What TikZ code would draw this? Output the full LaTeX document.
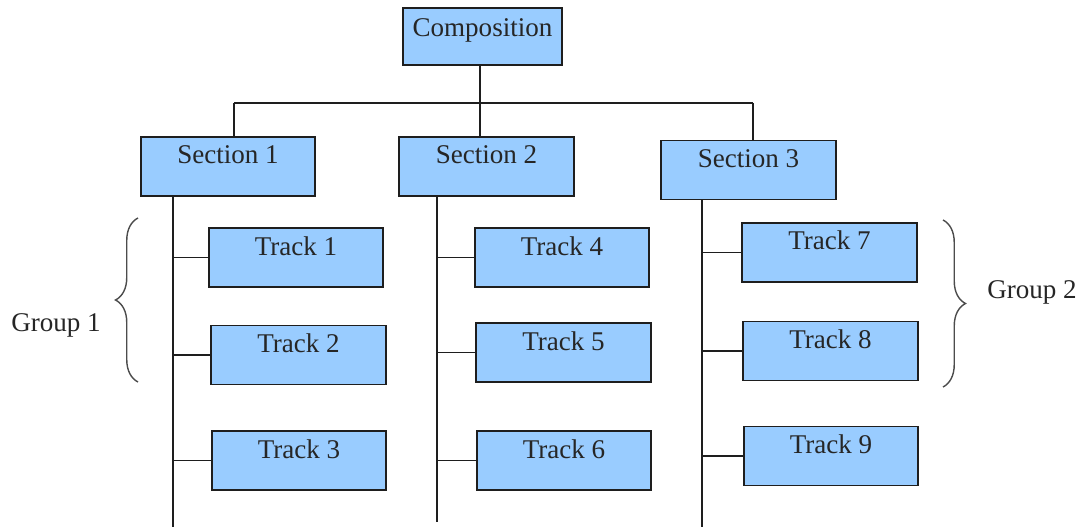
\documentclass[tikz,border=0pt]{standalone}
\usepackage{fontspec}
\setmainfont{Liberation Serif}
\usepackage{tikz}
\usetikzlibrary{decorations.pathreplacing}
\definecolor{paleblue}{RGB}{153,204,255}
\definecolor{inkline}{RGB}{30,30,30}

\begin{document}
\begin{tikzpicture}
  [x=0.02cm,y=-0.02cm,line width=1.1pt,
   block/.style={rectangle,draw=inkline,fill=paleblue,line width=1.1pt,align=center,
                 outer sep=0,inner sep=0,minimum width=3.49cm,
                 text height=0.54cm,text depth=0.64cm,
                 font=\fontsize{15.4}{18}\selectfont,text=black!85},
   compbox/.style={block,minimum width=3.18cm,text height=0.58cm,text depth=0.56cm},
   group/.style={font=\fontsize{15.4}{18}\selectfont,text=black!85},
   curly/.style={draw=black!70,line width=0.8pt,decorate,
                 decoration={brace,amplitude=0.45cm,aspect=0.5}}]
  \useasboundingbox (0,0) rectangle (1083,527);
  % boxes
  \node[compbox] (comp) at (482.5,36.5) {Composition};
  \node[block] (sec1) at (228,166.5) {Section 1};
  \node[block] (sec2) at (486.5,166.5) {Section 2};
  \node[block] (sec3) at (748.5,170) {Section 3};
  \node[block] (trk1) at (296,257.5) {Track 1};
  \node[block] (trk2) at (298.5,355) {Track 2};
  \node[block] (trk3) at (299,460.5) {Track 3};
  \node[block] (trk4) at (562,257.5) {Track 4};
  \node[block] (trk5) at (563.5,352.5) {Track 5};
  \node[block] (trk6) at (564,460.5) {Track 6};
  \node[block] (trk7) at (829.5,252.5) {Track 7};
  \node[block] (trk8) at (830.5,351) {Track 8};
  \node[block] (trk9) at (831,456) {Track 9};
  \node[group] (grp1) at (56,325) {Group 1};
  \node[group] (grp2) at (1032,292) {Group 2};
  % bar and stems
  \coordinate (bar1) at (234,103);
  \coordinate (bar2) at (480,103);
  \coordinate (bar3) at (753,103);
  \coordinate (end1) at (173,527);
  \coordinate (end2) at (437,522);
  \coordinate (end3) at (702,527);
  \draw[inkline] (comp.south -| bar2) -- (bar2);
  \draw[inkline] (bar1) -- (bar3);
  \draw[inkline] (bar1) -- (bar1 |- sec1.north);
  \draw[inkline] (bar2) -- (bar2 |- sec2.north);
  \draw[inkline] (bar3) -- (bar3 |- sec3.north);
  \draw[inkline] (sec1.south -| end1) -- (end1);
  \draw[inkline] (sec2.south -| end2) -- (end2);
  \draw[inkline] (sec3.south -| end3) -- (end3);
  \foreach \t/\e in {trk1/end1,trk2/end1,trk3/end1,trk4/end2,trk5/end2,
                     trk6/end2,trk7/end3,trk8/end3,trk9/end3}
    \draw[inkline] (\e |- \t.west) -- (\t.west);
  % braces
  \coordinate (g1top) at (138,218);
  \coordinate (g1bot) at (138,382);
  \coordinate (g2top) at (943,220);
  \coordinate (g2bot) at (943,387);
  \draw[curly] (g1bot) -- (g1top);
  \draw[curly] (g2top) -- (g2bot);
\end{tikzpicture}
\end{document}
